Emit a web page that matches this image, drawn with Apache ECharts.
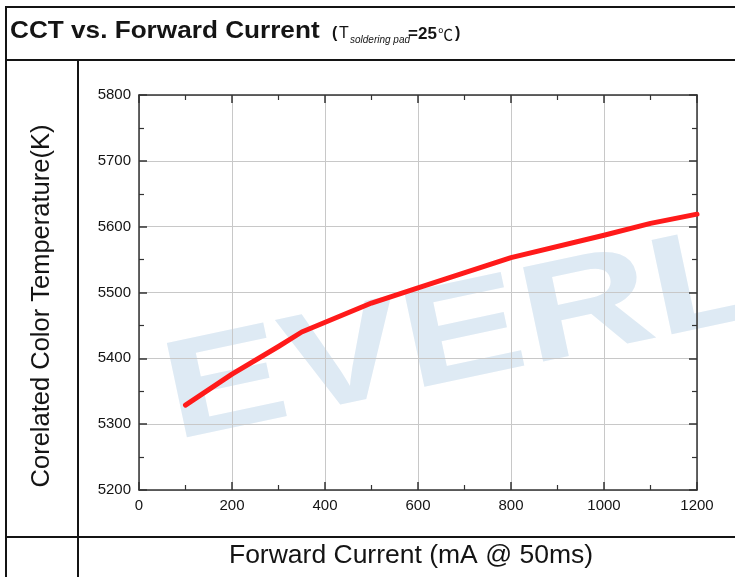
<!DOCTYPE html>
<html>
<head>
<meta charset="utf-8">
<script src="https://cdn.jsdelivr.net/npm/echarts@6/dist/echarts.min.js"></script>
<style>
    html, body { margin: 0; padding: 0; background: #fff; }
    #mainChart { width: 735px; height: 577px; }
</style>
</head>
<body>
<div id="mainChart"></div>
<script>
// forward current (mA) and CCT (K)
const current = [100, 200, 300, 350, 500, 600, 800, 1000, 1100, 1200]
const cct = [5329, 5376, 5418, 5440, 5484, 5507, 5553, 5587, 5605, 5619]

const xTicks = [0, 200, 400, 600, 800, 1000, 1200]
const yTicks = [5200, 5300, 5400, 5500, 5600, 5700, 5800]

const font = 'Liberation Sans, Arial, sans-serif'
const ink = '#141414'
const axisColor = '#333'

const myChart = echarts.init(document.getElementById('mainChart'), null, { renderer: 'canvas' })

// table lines round the chart
const tableLine = (x1, y1, x2, y2) => ({
    type: 'line', z: 50,
    shape: { x1, y1, x2, y2 },
    style: { stroke: ink, lineWidth: 2 }
})

const txt = (text, x, y, size, extra) => ({
    type: 'text', x: x, y: y, z: 50,
    style: Object.assign({
        text: text, fill: ink, fontFamily: font, fontSize: size,
        align: 'left', verticalAlign: 'middle'
    }, extra || {})
})

// common axis look: inside ticks + minor ticks, no jumping onto zero
const axisBase = (pos, min, max, interval) => ({
    type: 'value', position: pos, min: min, max: max, interval: interval,
    axisLine: { show: true, onZero: false, lineStyle: { color: axisColor, width: 1.5 } },
    axisTick: { show: true, inside: true, length: 8, lineStyle: { color: axisColor, width: 1.5 } },
    minorTick: { show: true, splitNumber: 2, length: 5, lineStyle: { color: axisColor, width: 1.2 } },
    axisLabel: { show: false },
    splitLine: { show: false }
})

const gridLine = { show: true, lineStyle: { color: '#c8c8c8', width: 1 } }

const xMain = axisBase('bottom', 0, 1200, 200)
xMain.axisLabel = {
    show: true, fontFamily: font, fontSize: 15, color: ink, margin: 8,
    formatter: (v) => xTicks.includes(v) ? String(v) : ''
}
xMain.splitLine = gridLine

const yMain = axisBase('left', 5200, 5800, 100)
yMain.axisLabel = {
    show: true, fontFamily: font, fontSize: 15, color: ink, margin: 8,
    formatter: (v) => yTicks.includes(v) ? String(v) : ''
}
yMain.splitLine = gridLine

var option = {
    backgroundColor: '#fff',
    animation: false,
    grid: { left: 139, top: 95, right: 38, bottom: 87 },
    graphic: [
        // watermark
        {
            type: 'text', z: -10, x: 167, y: 402,
            rotation: 12 * Math.PI / 180, scaleX: 1.3,
            style: {
                text: 'EVERLIGHT', fill: '#deeaf4',
                font: 'bold 140px ' + font,
                align: 'left', verticalAlign: 'middle'
            }
        },
        tableLine(5, 7, 735, 7),
        tableLine(5, 60, 735, 60),
        tableLine(5, 537, 735, 537),
        tableLine(6, 6, 6, 577),
        tableLine(78, 60, 78, 577),
        // title
        Object.assign(txt('CCT vs. Forward Current', 10, 31, 24, { fontWeight: 'bold' }), { scaleX: 1.09 }),
        txt('(', 332, 34, 16, { fontWeight: 'bold' }),
        txt('T', 339, 34, 16),
        txt('soldering pad', 350, 40, 10, { fontStyle: 'italic' }),
        txt('=25', 408, 34, 17, { fontWeight: 'bold' }),
        txt('℃', 438, 34, 15, { fontFamily: 'Noto Sans CJK SC' }),
        txt(')', 455, 34, 16, { fontWeight: 'bold' }),
        // axis titles
        Object.assign(txt('Corelated Color Temperature(K)', 42, 306, 25.5, { align: 'center' }), { rotation: Math.PI / 2 }),
        txt('Forward Current (mA @ 50ms)', 411, 556, 26.5, { align: 'center' })
    ],
    xAxis: [xMain, axisBase('top', 0, 1200, 200)],
    yAxis: [yMain, axisBase('right', 5200, 5800, 100)],
    series: [
        {
            name: 'CCT',
            type: 'line',
            data: current.map((x, i) => [x, cct[i]]),
            showSymbol: false,
            lineStyle: { color: '#ff1a1a', width: 5, cap: 'round', join: 'round' }
        }
    ]
}

myChart.setOption(option)
</script>
</body>
</html>
